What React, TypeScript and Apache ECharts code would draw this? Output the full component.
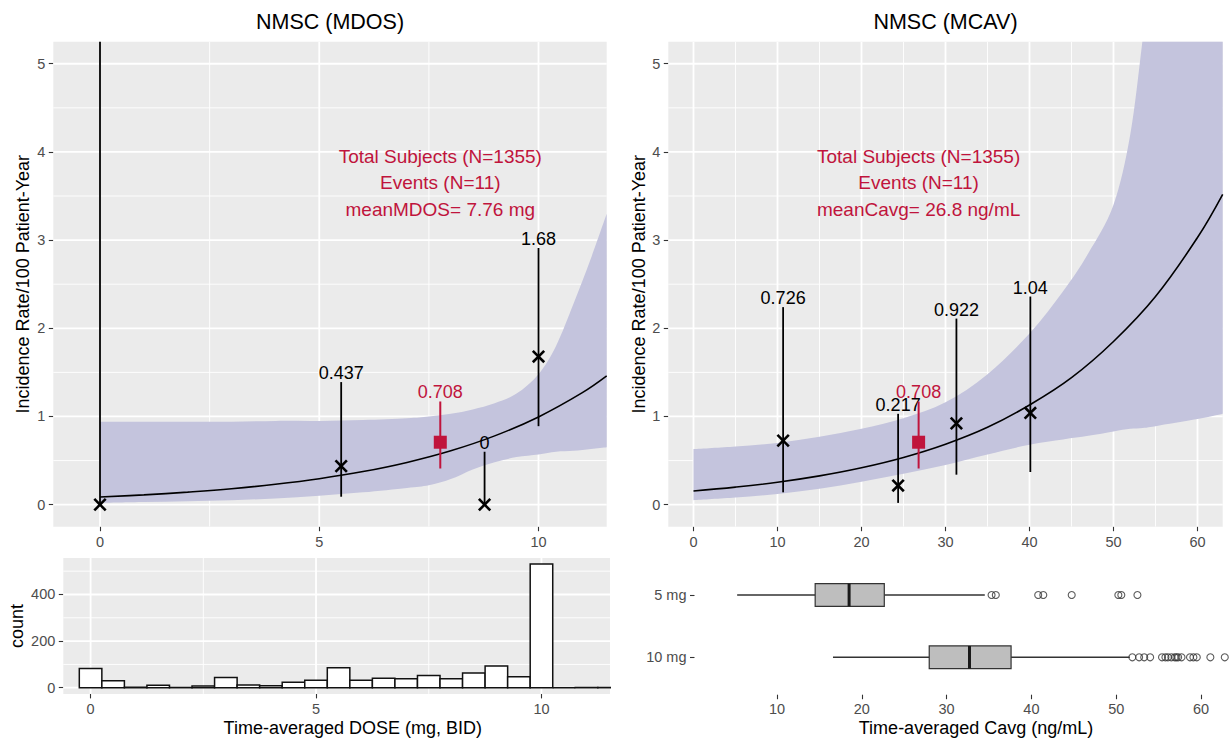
import React, { useEffect, useRef } from "react";
import * as echarts from "echarts";

const FONT = "'Liberation Sans', Arial, Helvetica, sans-serif";
const RED = "#C0143C";
const BAND = "#C4C4DD";
const PANEL_BG = "#EBEBEB";
const TICK_TEXT = "#4D4D4D";
const TICK_LINE = "#333333";

// ---------- Incidence vs. time-averaged dose (MDOS) ----------
const mdosCurveX = [0, 1, 2, 3, 4, 5, 6, 7, 8, 9, 10, 11, 11.555];
const mdosCurveY = [0.087, 0.111, 0.142, 0.18, 0.231, 0.294, 0.375, 0.479, 0.611, 0.78, 0.995, 1.27, 1.46];
const mdosBandX = [0, 1, 2, 3, 4, 5, 6, 7, 7.5, 8, 8.5, 9, 9.5, 10, 10.4, 10.8, 11.2, 11.555];
const mdosBandLow = [0.02, 0.03, 0.04, 0.05, 0.07, 0.1, 0.14, 0.19, 0.22, 0.29, 0.4, 0.48, 0.54, 0.57, 0.6, 0.61, 0.63, 0.65];
const mdosBandHigh = [0.94, 0.94, 0.94, 0.94, 0.95, 0.95, 0.96, 0.98, 1.0, 1.03, 1.08, 1.15, 1.26, 1.48, 1.8, 2.28, 2.8, 3.3];
const mdosBinX = [0, 5.5, 8.77, 10];
const mdosBinRate = [0, 0.437, 0, 1.68];
const mdosBinLow = [0, 0.09, 0, 0.89];
const mdosBinHigh = [7.5, 1.39, 0.6, 2.91];
const mdosMeanX = 7.76;
const mdosTicksX = [0, 5, 10];
const mdosMinorX = [2.5, 7.5];

// ---------- Incidence vs. time-averaged concentration (MCAV) ----------
const mcavCurveX = [0, 5, 10, 15, 20, 25, 30, 35, 40, 45, 50, 55, 60, 63];
const mcavCurveY = [0.155, 0.199, 0.254, 0.326, 0.418, 0.535, 0.685, 0.877, 1.13, 1.44, 1.85, 2.36, 3.03, 3.52];
const mcavBandX = [0, 5, 10, 15, 20, 25, 30, 35, 40, 44, 47, 50, 52, 53.5, 55, 60, 63];
const mcavBandLow = [0.05, 0.08, 0.12, 0.18, 0.26, 0.35, 0.45, 0.57, 0.68, 0.74, 0.78, 0.83, 0.86, 0.87, 0.89, 0.97, 1.03];
const mcavBandHigh = [0.63, 0.66, 0.7, 0.77, 0.86, 0.98, 1.16, 1.48, 1.94, 2.42, 2.85, 3.4, 4.2, 5.3, 6.5, 11, 14];
const mcavBinX = [10.67, 24.36, 31.3, 40.1];
const mcavBinRate = [0.726, 0.217, 0.922, 1.04];
const mcavBinLow = [0.14, 0.02, 0.34, 0.37];
const mcavBinHigh = [2.24, 1.03, 2.11, 2.36];
const mcavMeanX = 26.8;
const mcavTicksX = [0, 10, 20, 30, 40, 50, 60];
const mcavMinorX = [5, 15, 25, 35, 45, 55];

// Overall incidence at the mean exposure
const meanRate = 0.708;
const meanLow = 0.41;
const meanHigh = 1.17;
const totalSubjects = 1355;
const totalEvents = 11;

const rateTicks = [0, 1, 2, 3, 4, 5];
const rateMinor = [0.5, 1.5, 2.5, 3.5, 4.5];

// ---------- Dose histogram ----------
const doseBinCenters = [0, 0.5, 1, 1.5, 2, 2.5, 3, 3.5, 4, 4.5, 5, 5.5, 6, 6.5, 7, 7.5, 8, 8.5, 9, 9.5, 10, 10.5, 11, 11.5];
const doseBinCounts = [83, 30, 2, 11, 1, 7, 44, 12, 8, 23, 32, 86, 32, 41, 38, 52, 38, 63, 93, 47, 531, 0, 1, 1];
const doseBinWidth = 0.5;
const countTicks = [0, 200, 400];
const countMinor = [100, 300, 500];

// ---------- Cavg by dose group ----------
const boxGroups = ["5 mg", "10 mg"];
const boxMin = [5.3, 16.6];
const boxQ1 = [14.5, 27.95];
const boxMedian = [18.5, 32.7];
const boxQ3 = [22.65, 37.6];
const boxMax = [34.5, 51.6];
const outliers5 = [35.3, 35.8, 40.8, 41.4, 44.75, 50.25, 50.6, 52.5];
const outliers10 = [51.9, 52.7, 53.3, 54.0, 55.4, 55.8, 56.1, 56.5, 56.9, 57.1, 57.3, 57.7, 58.7, 59.1, 59.5, 61.1, 62.8];
const cavgTicks = [10, 20, 30, 40, 50, 60];

const RATE_RANGE = [-0.25, 5.25];

function valueAxis(gridIndex: number, min: number, max: number, ticks: number[], margin: number, extra: any = {}) {
  return {
    type: "value",
    gridIndex,
    min,
    max,
    axisLine: { show: false, onZero: false },
    splitLine: { show: false },
    axisTick: { show: true, length: 4.5, lineStyle: { color: TICK_LINE, width: 1.1 }, customValues: ticks },
    axisLabel: { customValues: ticks, color: TICK_TEXT, fontSize: 14.5, fontFamily: FONT, margin },
    ...extra,
  };
}

function gridLines(idx: number, xr: number[], yr: number[], xMaj: number[], xMin: number[], yMaj: number[], yMin: number[]) {
  return {
    type: "custom",
    xAxisIndex: idx,
    yAxisIndex: idx,
    silent: true,
    clip: true,
    z: 1,
    data: [[xr[0], yr[0]]],
    renderItem: (_p: any, api: any) => {
      const children: any[] = [];
      const seg = (a: number[], b: number[], w: number) =>
        children.push({ type: "line", shape: { x1: a[0], y1: a[1], x2: b[0], y2: b[1] }, style: { stroke: "#FFFFFF", lineWidth: w } });
      xMin.forEach((v) => seg(api.coord([v, yr[0]]), api.coord([v, yr[1]]), 0.9));
      yMin.forEach((v) => seg(api.coord([xr[0], v]), api.coord([xr[1], v]), 0.9));
      xMaj.forEach((v) => seg(api.coord([v, yr[0]]), api.coord([v, yr[1]]), 1.8));
      yMaj.forEach((v) => seg(api.coord([xr[0], v]), api.coord([xr[1], v]), 1.8));
      return { type: "group", children };
    },
  };
}

// Cubic-bezier path segments through pixel points (Catmull-Rom style smoothing).
function smoothSegments(pts: number[][]): string {
  let d = "";
  for (let i = 0; i < pts.length - 1; i++) {
    const p0 = pts[i - 1] || pts[i];
    const p1 = pts[i];
    const p2 = pts[i + 1];
    const p3 = pts[i + 2] || p2;
    const c1x = p1[0] + (p2[0] - p0[0]) / 6;
    const c1y = p1[1] + (p2[1] - p0[1]) / 6;
    const c2x = p2[0] - (p3[0] - p1[0]) / 6;
    const c2y = p2[1] - (p3[1] - p1[1]) / 6;
    d += ` C ${c1x} ${c1y} ${c2x} ${c2y} ${p2[0]} ${p2[1]}`;
  }
  return d;
}

function bandSeries(idx: number, xs: number[], lo: number[], hi: number[]) {
  return {
    type: "custom",
    xAxisIndex: idx,
    yAxisIndex: idx,
    silent: true,
    clip: true,
    z: 2,
    data: [[xs[0], lo[0]]],
    renderItem: (_p: any, api: any) => {
      const top = xs.map((x, i) => api.coord([x, hi[i]]));
      const bottom = xs.map((x, i) => api.coord([x, lo[i]])).reverse();
      const d =
        `M ${top[0][0]} ${top[0][1]}` +
        smoothSegments(top) +
        ` L ${bottom[0][0]} ${bottom[0][1]}` +
        smoothSegments(bottom) +
        " Z";
      return { type: "path", shape: { pathData: d }, style: { fill: BAND, stroke: "none" } };
    },
  };
}

function curveSeries(idx: number, xs: number[], ys: number[]) {
  return {
    type: "line",
    xAxisIndex: idx,
    yAxisIndex: idx,
    data: xs.map((x, i) => [x, ys[i]]),
    symbol: "none",
    smooth: 0.4,
    silent: true,
    lineStyle: { color: "#000", width: 1.6 },
    z: 3,
  };
}

function pointSeries(idx: number, xs: number[], rates: number[], lows: number[], highs: number[]) {
  return {
    type: "custom",
    xAxisIndex: idx,
    yAxisIndex: idx,
    clip: true,
    silent: true,
    z: 5,
    encode: { x: 0, y: [1, 2, 3] },
    data: xs.map((x, i) => [x, rates[i], lows[i], highs[i]]),
    renderItem: (params: any, api: any) => {
      const x = api.value(0);
      const hiVal = api.value(3);
      const pR = api.coord([x, api.value(1)]);
      const pLo = api.coord([x, api.value(2)]);
      const pHi = api.coord([x, hiVal]);
      const s = 5.7;
      const children: any[] = [
        { type: "line", shape: { x1: pLo[0], y1: pLo[1], x2: pHi[0], y2: pHi[1] }, style: { stroke: "#000", lineWidth: 1.8 } },
        { type: "line", shape: { x1: pR[0] - s, y1: pR[1] - s, x2: pR[0] + s, y2: pR[1] + s }, style: { stroke: "#000", lineWidth: 2.6 } },
        { type: "line", shape: { x1: pR[0] - s, y1: pR[1] + s, x2: pR[0] + s, y2: pR[1] - s }, style: { stroke: "#000", lineWidth: 2.6 } },
      ];
      // the value label sits above the upper limit, only when that limit is inside the panel
      if (hiVal < RATE_RANGE[1] - 0.3) {
        children.push({
          type: "text",
          x: pHi[0],
          y: pHi[1] - 9,
          style: { text: String(rates[params.dataIndex]), fill: "#000", fontSize: 18, fontFamily: FONT, align: "center", verticalAlign: "middle" },
        });
      }
      return { type: "group", children };
    },
  };
}

function meanSeries(idx: number, meanX: number, meanName: string, unit: string) {
  return [
    {
      type: "custom",
      xAxisIndex: idx,
      yAxisIndex: idx,
      clip: true,
      silent: true,
      z: 6,
      encode: { x: 0, y: [1, 2, 3] },
      data: [[meanX, meanRate, meanLow, meanHigh]],
      renderItem: (_p: any, api: any) => {
        const x = api.value(0);
        const pR = api.coord([x, api.value(1)]);
        const pLo = api.coord([x, api.value(2)]);
        const pHi = api.coord([x, api.value(3)]);
        const h = 6.5;
        return {
          type: "group",
          children: [
            { type: "line", shape: { x1: pLo[0], y1: pLo[1], x2: pHi[0], y2: pHi[1] }, style: { stroke: RED, lineWidth: 2 } },
            { type: "rect", shape: { x: pR[0] - h, y: pR[1] - h, width: 2 * h, height: 2 * h }, style: { fill: RED } },
            {
              type: "text",
              x: pHi[0],
              y: pHi[1] - 9,
              style: { text: String(meanRate), fill: RED, fontSize: 18, fontFamily: FONT, align: "center", verticalAlign: "middle" },
            },
          ],
        };
      },
    },
    {
      type: "custom",
      xAxisIndex: idx,
      yAxisIndex: idx,
      clip: true,
      silent: true,
      z: 6,
      data: [[meanX, 3.65]],
      renderItem: (_p: any, api: any) => {
        const p = api.coord([api.value(0), api.value(1)]);
        return {
          type: "text",
          x: p[0],
          y: p[1],
          style: {
            text: `Total Subjects (N=${totalSubjects})\nEvents (N=${totalEvents})\n${meanName}= ${meanX} ${unit}`,
            fill: RED,
            fontSize: 19,
            lineHeight: 26.6,
            fontFamily: FONT,
            align: "center",
            verticalAlign: "middle",
          },
        };
      },
    },
  ];
}

function buildOption(): any {
  const mdosXR = [-1.065, 11.555];
  const mcavXR = [-3, 63];
  const rateYR = RATE_RANGE;
  const histXR = [-0.605, 11.52];
  const histYR = [-26.5, 556.5];
  const boxXR = [0.27, 63.18];

  const gridBase = { show: true, backgroundColor: PANEL_BG, borderWidth: 0, borderColor: "transparent" };

  const gtext = (text: string, x: number, y: number, size: number, rot = 0) => ({
    type: "text",
    x,
    y,
    rotation: rot,
    silent: true,
    style: { text, fill: "#000", fontSize: size, fontFamily: FONT, align: "center", verticalAlign: "middle" },
  });

  return {
    animation: false,
    backgroundColor: "#FFFFFF",
    grid: [
      { ...gridBase, left: 53.3, top: 41.7, width: 553.4, height: 485 },
      { ...gridBase, left: 668.3, top: 41.7, width: 554.4, height: 485 },
      { ...gridBase, left: 63.3, top: 558, width: 546.7, height: 135.9 },
      { show: false, left: 694.5, top: 563.85, width: 533.5, height: 124.6 },
    ],
    xAxis: [
      valueAxis(0, mdosXR[0], mdosXR[1], mdosTicksX, 7.5),
      valueAxis(1, mcavXR[0], mcavXR[1], mcavTicksX, 7.5),
      valueAxis(2, histXR[0], histXR[1], [0, 5, 10], 7.5),
      valueAxis(3, boxXR[0], boxXR[1], cavgTicks, 6.5, { offset: 6.25 }),
    ],
    yAxis: [
      valueAxis(0, rateYR[0], rateYR[1], rateTicks, 8),
      valueAxis(1, rateYR[0], rateYR[1], rateTicks, 8),
      valueAxis(2, histYR[0], histYR[1], countTicks, 8),
      {
        type: "category",
        gridIndex: 3,
        data: boxGroups,
        inverse: true,
        axisLine: { show: false },
        splitLine: { show: false },
        axisTick: { show: true, alignWithLabel: true, length: 4.5, lineStyle: { color: TICK_LINE, width: 1.1 } },
        axisLabel: { color: TICK_TEXT, fontSize: 14.5, fontFamily: FONT, margin: 8 },
      },
    ],
    graphic: [
      gtext("NMSC (MDOS)", 330, 22, 21.5),
      gtext("NMSC (MCAV)", 945.5, 22, 21.5),
      gtext("Incidence Rate/100 Patient-Year", 22.5, 284.2, 18, Math.PI / 2),
      gtext("Incidence Rate/100 Patient-Year", 638.5, 284.2, 18, Math.PI / 2),
      gtext("count", 17, 626, 18, Math.PI / 2),
      gtext("Time-averaged DOSE (mg, BID)", 352.8, 728, 18),
      gtext("Time-averaged Cavg (ng/mL)", 976, 728, 18),
    ],
    series: [
      // MDOS panel
      gridLines(0, mdosXR, rateYR, mdosTicksX, mdosMinorX, rateTicks, rateMinor),
      bandSeries(0, mdosBandX, mdosBandLow, mdosBandHigh),
      curveSeries(0, mdosCurveX, mdosCurveY),
      pointSeries(0, mdosBinX, mdosBinRate, mdosBinLow, mdosBinHigh),
      ...meanSeries(0, mdosMeanX, "meanMDOS", "mg"),

      // MCAV panel
      gridLines(1, mcavXR, rateYR, mcavTicksX, mcavMinorX, rateTicks, rateMinor),
      bandSeries(1, mcavBandX, mcavBandLow, mcavBandHigh),
      curveSeries(1, mcavCurveX, mcavCurveY),
      pointSeries(1, mcavBinX, mcavBinRate, mcavBinLow, mcavBinHigh),
      ...meanSeries(1, mcavMeanX, "meanCavg", "ng/mL"),

      // Dose histogram
      gridLines(2, histXR, histYR, [0, 5, 10], [2.5, 7.5], countTicks, countMinor),
      {
        type: "custom",
        xAxisIndex: 2,
        yAxisIndex: 2,
        clip: true,
        silent: true,
        z: 3,
        encode: { x: 0, y: 1 },
        data: doseBinCenters.map((c, i) => [c, doseBinCounts[i]]),
        renderItem: (_p: any, api: any) => {
          const c = api.value(0);
          const p0 = api.coord([c - doseBinWidth / 2, api.value(1)]);
          const p1 = api.coord([c + doseBinWidth / 2, 0]);
          return {
            type: "rect",
            shape: { x: p0[0], y: p0[1], width: p1[0] - p0[0], height: p1[1] - p0[1] },
            style: { fill: "#FFFFFF", stroke: "#111", lineWidth: 1.5 },
          };
        },
      },

      // Cavg boxplots by dose group
      {
        type: "custom",
        xAxisIndex: 3,
        yAxisIndex: 3,
        silent: true,
        z: 3,
        encode: { x: [1, 2, 3, 4, 5], y: 0 },
        data: boxGroups.map((_g, i) => [i, boxMin[i], boxQ1[i], boxMedian[i], boxQ3[i], boxMax[i]]),
        renderItem: (_p: any, api: any) => {
          const cat = api.value(0);
          const pMin = api.coord([api.value(1), cat]);
          const pQ1 = api.coord([api.value(2), cat]);
          const pMed = api.coord([api.value(3), cat]);
          const pQ3 = api.coord([api.value(4), cat]);
          const pMax = api.coord([api.value(5), cat]);
          const half = api.size([0, 1])[1] * 0.182;
          const cy = pMin[1];
          return {
            type: "group",
            children: [
              { type: "line", shape: { x1: pMin[0], y1: cy, x2: pQ1[0], y2: cy }, style: { stroke: "#333", lineWidth: 1.4 } },
              { type: "line", shape: { x1: pQ3[0], y1: cy, x2: pMax[0], y2: cy }, style: { stroke: "#333", lineWidth: 1.4 } },
              {
                type: "rect",
                shape: { x: pQ1[0], y: cy - half, width: pQ3[0] - pQ1[0], height: 2 * half },
                style: { fill: "#BEBEBE", stroke: "#333", lineWidth: 1.2 },
              },
              { type: "line", shape: { x1: pMed[0], y1: cy - half, x2: pMed[0], y2: cy + half }, style: { stroke: "#1A1A1A", lineWidth: 3 } },
            ],
          };
        },
      },
      {
        type: "scatter",
        xAxisIndex: 3,
        yAxisIndex: 3,
        silent: true,
        z: 4,
        symbol: "circle",
        symbolSize: 7,
        itemStyle: { color: "transparent", borderColor: "#333", borderWidth: 1.1 },
        data: [...outliers5.map((v) => [v, 0]), ...outliers10.map((v) => [v, 1])],
      },
    ],
  };
}

export default function App() {
  const ref = useRef<HTMLDivElement>(null);
  useEffect(() => {
    if (!ref.current) return;
    const chart = echarts.init(ref.current, undefined, { renderer: "svg" });
    chart.setOption(buildOption());
    return () => chart.dispose();
  }, []);
  return (
    <div
      ref={ref}
      style={{ position: "absolute", left: 0, top: 0, width: 1231, height: 739, background: "#FFFFFF" }}
    />
  );
}
